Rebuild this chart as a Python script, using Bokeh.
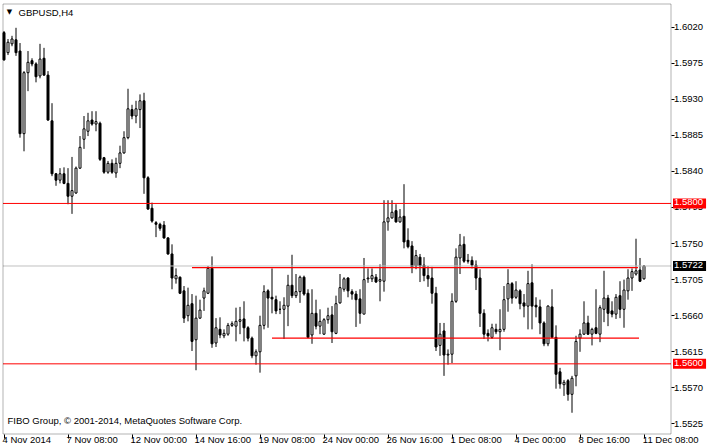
from bokeh.plotting import figure
from bokeh.models import (ColumnDataSource, Range1d, FixedTicker, PrintfTickFormatter,
                          Label, BoxAnnotation)
from bokeh.embed import file_html
from bokeh.resources import INLINE

symbol = "GBPUSD,H4"
copyright_text = "FIBO Group, \u00a9 2001-2014, MetaQuotes Software Corp."

opens = [
    1.6013, 1.5988, 1.5999, 1.6004, 1.5990, 1.5887, 1.5963, 1.5978, 1.5974, 1.5959,
    1.5981, 1.5960, 1.5903, 1.5837, 1.5829, 1.5837, 1.5825, 1.5809, 1.5813, 1.5844,
    1.5880, 1.5890, 1.5904, 1.5899, 1.5900, 1.5857, 1.5839, 1.5850, 1.5838, 1.5850,
    1.5863, 1.5882, 1.5917, 1.5909, 1.5917, 1.5928, 1.5832, 1.5794, 1.5776, 1.5774,
    1.5773, 1.5757, 1.5737, 1.5706, 1.5708, 1.5691, 1.5660, 1.5675, 1.5630, 1.5657,
    1.5682, 1.5688, 1.5719, 1.5626, 1.5643, 1.5635, 1.5637, 1.5648, 1.5647, 1.5653,
    1.5656, 1.5645, 1.5632, 1.5610, 1.5615, 1.5648, 1.5691, 1.5683, 1.5680, 1.5668,
    1.5668, 1.5672, 1.5698, 1.5685, 1.5690, 1.5708, 1.5688, 1.5636, 1.5663, 1.5647,
    1.5637, 1.5655, 1.5661, 1.5638, 1.5676, 1.5693, 1.5707, 1.5690, 1.5687, 1.5681,
    1.5662, 1.5706, 1.5706, 1.5708, 1.5703, 1.5703, 1.5777, 1.5782, 1.5791, 1.5777,
    1.5784, 1.5754, 1.5747, 1.5722, 1.5733, 1.5723, 1.5710, 1.5707, 1.5688, 1.5623,
    1.5641, 1.5611, 1.5612, 1.5678, 1.5732, 1.5749, 1.5729, 1.5729, 1.5723, 1.5707,
    1.5663, 1.5638, 1.5633, 1.5643, 1.5640, 1.5643, 1.5681, 1.5700, 1.5683, 1.5691,
    1.5676, 1.5672, 1.5701, 1.5673, 1.5671, 1.5651, 1.5625, 1.5671, 1.5633, 1.5590,
    1.5574, 1.5579, 1.5562, 1.5585, 1.5632, 1.5637, 1.5651, 1.5637, 1.5645, 1.5637,
    1.5668, 1.5682, 1.5666, 1.5662, 1.5685, 1.5668, 1.5691, 1.5707, 1.5712, 1.5717,
    1.5706,
]
highs = [
    1.6015, 1.6005, 1.6009, 1.6019, 1.6000, 1.5965, 1.5990, 1.5981, 1.5976, 1.5999,
    1.5994, 1.5965, 1.5925, 1.5838, 1.5844, 1.5845, 1.5844, 1.5858, 1.5846, 1.5884,
    1.5909, 1.5913, 1.5915, 1.5915, 1.5902, 1.5858, 1.5853, 1.5855, 1.5857, 1.5872,
    1.5890, 1.5943, 1.5923, 1.5928, 1.5936, 1.5938, 1.5834, 1.5801, 1.5778, 1.5776,
    1.5778, 1.5758, 1.5749, 1.5719, 1.5709, 1.5697, 1.5695, 1.5687, 1.5685, 1.5680,
    1.5695, 1.5722, 1.5734, 1.5657, 1.5658, 1.5643, 1.5651, 1.5653, 1.5670, 1.5671,
    1.5678, 1.5647, 1.5634, 1.5618, 1.5660, 1.5698, 1.5693, 1.5719, 1.5685, 1.5678,
    1.5683, 1.5711, 1.5736, 1.5712, 1.5710, 1.5710, 1.5693, 1.5693, 1.5680, 1.5668,
    1.5657, 1.5670, 1.5672, 1.5685, 1.5712, 1.5708, 1.5708, 1.5693, 1.5691, 1.5693,
    1.5732, 1.5719, 1.5719, 1.5712, 1.5724, 1.5804, 1.5804, 1.5804, 1.5799, 1.5793,
    1.5824, 1.5769, 1.5753, 1.5742, 1.5737, 1.5733, 1.5722, 1.5721, 1.5696, 1.5651,
    1.5651, 1.5618, 1.5688, 1.5744, 1.5762, 1.5759, 1.5737, 1.5734, 1.5729, 1.5718,
    1.5668, 1.5643, 1.5650, 1.5650, 1.5668, 1.5697, 1.5718, 1.5702, 1.5703, 1.5693,
    1.5687, 1.5716, 1.5724, 1.5683, 1.5680, 1.5653, 1.5673, 1.5693, 1.5648, 1.5595,
    1.5580, 1.5581, 1.5585, 1.5635, 1.5643, 1.5678, 1.5660, 1.5645, 1.5693, 1.5673,
    1.5716, 1.5686, 1.5678, 1.5687, 1.5703, 1.5705, 1.5718, 1.5719, 1.5756, 1.5732,
    1.5723,
]
lows = [
    1.5978, 1.5985, 1.5996, 1.5984, 1.5882, 1.5865, 1.5940, 1.5971, 1.5951, 1.5956,
    1.5959, 1.5903, 1.5834, 1.5822, 1.5825, 1.5824, 1.5799, 1.5787, 1.5812, 1.5843,
    1.5868, 1.5884, 1.5897, 1.5890, 1.5853, 1.5837, 1.5837, 1.5837, 1.5832, 1.5844,
    1.5862, 1.5880, 1.5905, 1.5900, 1.5894, 1.5812, 1.5792, 1.5776, 1.5758, 1.5766,
    1.5756, 1.5736, 1.5693, 1.5700, 1.5687, 1.5651, 1.5653, 1.5616, 1.5592, 1.5656,
    1.5666, 1.5687, 1.5620, 1.5621, 1.5632, 1.5632, 1.5635, 1.5646, 1.5628, 1.5637,
    1.5628, 1.5628, 1.5607, 1.5599, 1.5589, 1.5643, 1.5645, 1.5663, 1.5662, 1.5662,
    1.5631, 1.5647, 1.5682, 1.5682, 1.5676, 1.5685, 1.5632, 1.5625, 1.5643, 1.5637,
    1.5636, 1.5650, 1.5626, 1.5637, 1.5675, 1.5690, 1.5683, 1.5680, 1.5646, 1.5650,
    1.5662, 1.5701, 1.5702, 1.5701, 1.5678, 1.5690, 1.5766, 1.5781, 1.5776, 1.5776,
    1.5744, 1.5744, 1.5713, 1.5718, 1.5702, 1.5703, 1.5696, 1.5675, 1.5616, 1.5610,
    1.5585, 1.5599, 1.5601, 1.5676, 1.5712, 1.5726, 1.5725, 1.5719, 1.5692, 1.5646,
    1.5631, 1.5628, 1.5631, 1.5637, 1.5617, 1.5640, 1.5665, 1.5675, 1.5681, 1.5668,
    1.5658, 1.5643, 1.5643, 1.5658, 1.5637, 1.5622, 1.5622, 1.5632, 1.5569, 1.5569,
    1.5560, 1.5554, 1.5539, 1.5572, 1.5615, 1.5636, 1.5636, 1.5623, 1.5637, 1.5627,
    1.5652, 1.5647, 1.5658, 1.5656, 1.5657, 1.5645, 1.5680, 1.5691, 1.5710, 1.5702,
    1.5705,
]
closes = [
    1.5979, 1.6001, 1.6005, 1.5988, 1.5887, 1.5963, 1.5976, 1.5974, 1.5958, 1.5980,
    1.5960, 1.5904, 1.5837, 1.5829, 1.5837, 1.5825, 1.5809, 1.5816, 1.5844, 1.5870,
    1.5893, 1.5903, 1.5899, 1.5902, 1.5855, 1.5839, 1.5850, 1.5839, 1.5850, 1.5863,
    1.5882, 1.5918, 1.5909, 1.5918, 1.5928, 1.5832, 1.5793, 1.5778, 1.5774, 1.5769,
    1.5757, 1.5737, 1.5707, 1.5710, 1.5688, 1.5657, 1.5673, 1.5628, 1.5657, 1.5667,
    1.5691, 1.5719, 1.5625, 1.5645, 1.5636, 1.5638, 1.5648, 1.5650, 1.5653, 1.5655,
    1.5645, 1.5632, 1.5610, 1.5615, 1.5648, 1.5690, 1.5682, 1.5681, 1.5666, 1.5668,
    1.5673, 1.5698, 1.5685, 1.5690, 1.5708, 1.5687, 1.5633, 1.5663, 1.5647, 1.5653,
    1.5655, 1.5660, 1.5640, 1.5675, 1.5695, 1.5706, 1.5691, 1.5687, 1.5680, 1.5663,
    1.5705, 1.5707, 1.5710, 1.5702, 1.5705, 1.5777, 1.5782, 1.5789, 1.5777, 1.5783,
    1.5752, 1.5746, 1.5721, 1.5735, 1.5722, 1.5710, 1.5706, 1.5688, 1.5621, 1.5637,
    1.5611, 1.5612, 1.5678, 1.5733, 1.5748, 1.5728, 1.5728, 1.5723, 1.5707, 1.5663,
    1.5637, 1.5635, 1.5645, 1.5640, 1.5643, 1.5680, 1.5700, 1.5682, 1.5692, 1.5675,
    1.5672, 1.5700, 1.5672, 1.5671, 1.5651, 1.5625, 1.5672, 1.5633, 1.5587, 1.5575,
    1.5577, 1.5562, 1.5582, 1.5628, 1.5637, 1.5651, 1.5637, 1.5643, 1.5638, 1.5670,
    1.5682, 1.5663, 1.5662, 1.5683, 1.5668, 1.5692, 1.5707, 1.5715, 1.5716, 1.5703,
    1.5722,
]

x_labels = ["4 Nov 2014", "7 Nov 08:00", "12 Nov 00:00", "14 Nov 16:00", "19 Nov 08:00",
            "24 Nov 00:00", "26 Nov 16:00", "1 Dec 08:00", "4 Dec 00:00", "8 Dec 16:00",
            "11 Dec 08:00"]
x_label_bars = [0, 16, 32, 48, 64, 80, 96, 112, 128, 144, 160]
y_ticks = [1.5525, 1.5570, 1.5615, 1.5660, 1.5705, 1.5750, 1.5795, 1.5840, 1.5885,
           1.5930, 1.5975, 1.6020]
h_levels = [1.5800, 1.5600]
trend_y = [1.5720, 1.5632]
trend_start = [47, 67]
trend_end = [158.5, 158.75]

FONT = "Liberation Sans"
FS = 9.5

# ---- geometry (pixels of the 710x445 canvas) ----
W, H = 710, 445
PX_BAR = 4.0          # pixels per bar
BAR0_PX = 3.5         # screen x of bar 0
PX_PRICE = 8020.0     # pixels per price unit
REF_PRICE, REF_PX = 1.6020, 26.5

def xd(px):
    return (px - BAR0_PX) / PX_BAR

def yd(px):
    return REF_PRICE - (px - REF_PX) / PX_PRICE

CH_L, CH_R = xd(2.5), xd(670.5)     # chart box (left/right)
CH_T, CH_B = yd(3.5), yd(433.5)     # chart box (top/bottom)

n = len(opens)
src = ColumnDataSource(dict(
    x=list(range(n)), open=opens, high=highs, low=lows, close=closes,
    top=[max(o, c) for o, c in zip(opens, closes)],
    bottom=[min(o, c) for o, c in zip(opens, closes)],
    fill=["white" if c >= o else "black" for o, c in zip(opens, closes)],
))

p = figure(width=W, height=H, output_backend="svg", toolbar_location=None,
           x_range=Range1d(xd(0), xd(W)), y_range=Range1d(yd(H), yd(0)),
           y_axis_location="right",
           min_border_left=0, min_border_right=0, min_border_top=0, min_border_bottom=0)
p.grid.visible = False
p.outline_line_color = None
p.background_fill_color = "white"
p.border_fill_color = "white"

# chart border
p.add_layout(BoxAnnotation(left=CH_L, right=CH_R, top=CH_T, bottom=CH_B,
                           fill_alpha=0, line_color="black", line_width=1))

# candles
p.segment(x0="x", y0="low", x1="x", y1="high", source=src, line_color="black", line_width=1)
p.vbar(x="x", top="top", bottom="bottom", width=0.5, source=src,
       fill_color="fill", line_color="black", line_width=1)

# horizontal levels, bid line and trend lines
p.segment(x0=[CH_L] * len(h_levels), y0=h_levels, x1=[CH_R] * len(h_levels), y1=h_levels,
          line_color="#ff0000", line_width=1)
p.segment(x0=[CH_L], y0=[closes[-1]], x1=[CH_R], y1=[closes[-1]],
          line_color="#c0c0c0", line_width=1)
p.segment(x0=trend_start, y0=trend_y, x1=trend_end, y1=trend_y,
          line_color="#ff0000", line_width=1.2)

# y axis (price scale), fixed at the chart's right edge
ya = p.yaxis[0]
ya.fixed_location = CH_R
ya.ticker = FixedTicker(ticks=y_ticks)
ya.formatter = PrintfTickFormatter(format="%.4f")
ya.major_tick_out = 3
ya.major_tick_in = 0
ya.minor_tick_out = 0
ya.minor_tick_in = 0
ya.major_label_standoff = 0
ya.axis_line_color = None
ya.major_tick_line_color = "black"
ya.major_label_text_font = FONT
ya.major_label_text_font_size = f"{FS}px"
ya.major_label_text_color = "black"

# x axis (time scale), fixed at the chart's bottom edge; labels start at the tick
char_w = {" ": 0.278, ":": 0.278, "N": 0.722, "o": 0.556, "v": 0.5, "D": 0.722, "e": 0.556, "c": 0.5}
centers = []
for b, lab in zip(x_label_bars, x_labels):
    w = sum(char_w.get(ch, 0.556) for ch in lab) * FS
    centers.append(round(b + (w / 2 - 1.5) / PX_BAR, 3))
xa = p.xaxis[0]
xa.fixed_location = CH_B
xa.ticker = FixedTicker(ticks=centers, minor_ticks=x_label_bars)
xa.major_label_overrides = {c: lab for c, lab in zip(centers, x_labels)}
xa.major_tick_out = 0
xa.major_tick_in = 0
xa.minor_tick_out = 4
xa.minor_tick_in = 0
xa.minor_tick_line_color = "black"
xa.major_label_standoff = -4
xa.axis_line_color = None
xa.major_label_text_font = FONT
xa.major_label_text_font_size = f"{FS}px"
xa.major_label_text_color = "black"

# price tags on the price scale
for lv, bg in [(h_levels[0], "#ff0000"), (closes[-1], "black"), (h_levels[1], "#ff0000")]:
    p.add_layout(Label(x=CH_R, y=lv, x_offset=2, text=f"{lv:.4f}", text_baseline="middle",
                       text_align="left", text_color="white", text_font=FONT,
                       text_font_size=f"{FS}px", background_fill_color=bg,
                       padding=(1, 3, 1, 3)))

# title and copyright
p.add_layout(Label(x=xd(9), y=yd(11.5), text="\u25bc", text_align="center", text_baseline="middle",
                   text_font="DejaVu Sans", text_font_size="7px", text_color="black"))
p.add_layout(Label(x=xd(18), y=yd(11.5), text=symbol, text_align="left", text_baseline="middle",
                   text_font=FONT, text_font_size=f"{FS}px", text_color="black"))
p.add_layout(Label(x=xd(7), y=yd(420), text=copyright_text, text_align="left",
                   text_baseline="middle", text_font=FONT, text_font_size=f"{FS}px",
                   text_color="black"))

open("out.html", "w").write(file_html(p, INLINE))
